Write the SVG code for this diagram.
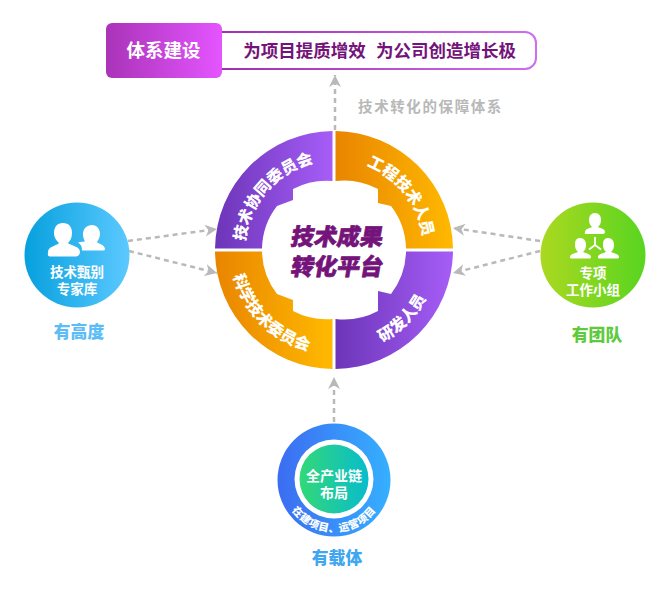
<svg xmlns="http://www.w3.org/2000/svg" width="668" height="590" viewBox="0 0 668 590">
<style>
text{font-family:"Noto Sans CJK SC","Noto Sans",sans-serif;font-weight:700;text-anchor:middle}
.w{fill:#fff}
.ring{font-size:15.800px;font-weight:900;fill:#fff}
.core{font-size:23px;font-weight:900;fill:#74137a;stroke:#74137a;stroke-width:.7}
.c{stroke:#b9b9b9;stroke-width:2.500;stroke-dasharray:5 4;fill:none;marker-end:url(#arr)}
</style>
<defs>
<marker id="arr" markerUnits="userSpaceOnUse" markerWidth="14" markerHeight="14" refX="12" refY="6.500" orient="auto"><path d="M0,0.500L12,6.500L0,12.500L3.500,6.500Z" fill="#b9b9b9"/></marker>
<linearGradient id="gHead" x1="0" x2="1" y1="0" y2="0"><stop offset="0" stop-color="#aa33b8"/><stop offset="1" stop-color="#e455ff"/></linearGradient>
<linearGradient id="gLine" x1="0" x2="1" y1="0" y2="0"><stop offset="0" stop-color="#9a2aa8"/><stop offset="1" stop-color="#cf6cf0"/></linearGradient>
<linearGradient id="gP" x1="0" x2="1" y1="0" y2="0"><stop offset="0" stop-color="#6c35b8"/><stop offset="1" stop-color="#a65df7"/></linearGradient>
<linearGradient id="gO" x1="0" x2="1" y1="0" y2="0"><stop offset="0" stop-color="#e98500"/><stop offset="1" stop-color="#ffb900"/></linearGradient>
<linearGradient id="gL" x1="0" x2="1" y1="0" y2="0"><stop offset="0" stop-color="#06a0de"/><stop offset="1" stop-color="#5cc9ff"/></linearGradient>
<linearGradient id="gR" x1="0" x2="1" y1="0" y2="0"><stop offset="0" stop-color="#acd820"/><stop offset="1" stop-color="#58d520"/></linearGradient>
<linearGradient id="gB" x1="0" x2="1" y1="0" y2="0"><stop offset="0" stop-color="#3c6cf2"/><stop offset="1" stop-color="#35b0ff"/></linearGradient>
<linearGradient id="gI" x1="0" x2="1" y1="0" y2="0"><stop offset="0" stop-color="#33d877"/><stop offset="1" stop-color="#08bccc"/></linearGradient>
<path id="aTL" d="M245,256A90,90 0 0 1 328,161"/>
<path id="aTR" d="M343,160A90,90 0 0 1 423,261"/>
<path id="aBL" d="M230,250A104,104 0 0 0 334,354"/>
<path id="aBR" d="M334,354A104,104 0 0 0 438,250"/>
<path id="aBot" d="M282,480A52,52 0 0 0 386,480"/>
</defs>

<g id="connectors">
<path class="c" d="M335,130V75"/>
<path class="c" d="M334,422V377"/>
<path class="c" d="M128,241L217,229"/>
<path class="c" d="M129,251L217,273"/>
<path class="c" d="M540,241L453,228"/>
<path class="c" d="M540,251L453,273"/>
</g>

<g id="header">
<rect x="190" y="32" width="346" height="37" rx="11" fill="#fff" stroke="url(#gLine)" stroke-width="2"/>
<rect x="106" y="23" width="116" height="55" rx="6" fill="url(#gHead)"/>
<text class="w" x="163.500" y="57" style="font-size:18.500px">体系建设</text>
<text x="304.500" y="57" style="font-size:17.500px;fill:#74137a">为项目提质增效</text>
<text x="446" y="57" style="font-size:17.500px;fill:#74137a">为公司创造增长极</text>
</g>
<text id="guarantee" x="430.500" y="112" style="font-size:14.500px;letter-spacing:1.600px;fill:#b8b8b8">技术转化的保障体系</text>

<g id="ring-top-left">
<path fill="url(#gP)" d="M332.500,131A119,119 0 0 0 215,248.500H262A72,72 0 0 1 277,206L293,200V189A72,72 0 0 1 332.500,181Z"/>
<text class="ring"><textPath href="#aTL" startOffset="50%">技术协同委员会</textPath></text>
</g>
<g id="ring-top-right">
<path fill="url(#gO)" d="M335.500,131A119,119 0 0 1 453,248.500H406A72,72 0 0 0 391,206L378,203V189A72,72 0 0 0 335.500,181Z"/>
<text class="ring"><textPath href="#aTR" startOffset="50%">工程技术人员</textPath></text>
</g>
<g id="ring-bottom-left">
<path fill="url(#gO)" d="M332.500,369A119,119 0 0 1 215,251.500H262A72,72 0 0 0 277,294L293,300V311A72,72 0 0 0 332.500,319Z"/>
<text class="ring"><textPath href="#aBL" startOffset="50%">科学技术委员会</textPath></text>
</g>
<g id="ring-bottom-right">
<path fill="url(#gP)" d="M335.500,369A119,119 0 0 0 453,251.500H406A72,72 0 0 1 391,294L378,291V311A72,72 0 0 1 335.500,319Z"/>
<text class="ring"><textPath href="#aBR" startOffset="50%">研发人员</textPath></text>
</g>
<g id="core">
<text class="core" x="336" y="245" transform="skewX(-10)" style="transform-origin:336px 245px">技术成果</text>
<text class="core" x="336" y="275" transform="skewX(-10)" style="transform-origin:336px 275px">转化平台</text>
</g>

<g id="node-left">
<circle cx="77" cy="255" r="52.500" fill="url(#gL)"/>
<path class="w" d="M63,223c6,0 9,4 9,10c0,5 -2,8 -4,10c3,3 12,3 12,9c0,3 -2,4 -4,4.500h-26c-3,0 -2,-3 -2,-4.500c0,-6 9,-6 11,-9c-2,-2 -5,-5 -5,-10c0,-6 3,-10 9,-10Z" />
<path class="w" d="M92,225c5,0 8,4 8,9c0,4 -2,6 -3,8c2,2 8,3 8,7c0,1 -1,1.500 -2,1.500h-21c0,-4 -1,-6 -4,-8c3,-1 6,-1 7,-1c-1,-2 -2,-4 -2,-7c0,-6 4,-9.500 9,-9.500Z"/>
<text class="w" x="77" y="277" style="font-size:13.500px">技术甄别</text>
<text class="w" x="77" y="293.500" style="font-size:13.500px">专家库</text>
</g>
<text id="label-left" x="79" y="338" style="font-size:16.800px;font-weight:900;fill:#5cbdf6">有高度</text>

<g id="node-right">
<circle cx="593" cy="255" r="52.500" fill="url(#gR)"/>
<path class="w" d="M595,213c4,0 6,3 6,7c0,3 -1,5 -3,7c2,1 7,2 7,5c0,1 -1,2 -2,2h-17c-2,0 -1,-1 -1,-2c0,-3 5,-4 7,-5c-2,-2 -3,-4 -3,-7c0,-4 2,-7 6,-7Z"/>
<path class="w" d="M580,238c4,0 6,3 6,7c0,3 -1,5 -3,7c2,1 8,2 8,5c0,1 -1,1.500 -2,1.500h-18c-1,0 -1,-1 -1,-1.500c0,-3 6,-4 8,-5c-2,-2 -3,-4 -3,-7c0,-4 1,-7 5,-7Z"/>
<path class="w" d="M608,238c4,0 6,3 6,7c0,3 -1,5 -3,7c2,1 8,2 8,5c0,1 -1,1.500 -2,1.500h-18c-1,0 -1,-1 -1,-1.500c0,-3 6,-4 8,-5c-2,-2 -3,-4 -3,-7c0,-4 1,-7 5,-7Z"/>
<path d="M595,237V245M595,245L589,249.500M595,245L601,249.500" fill="none" stroke="#fff" stroke-width="1.800"/>
<text class="w" x="593" y="278" style="font-size:13.500px">专项</text>
<text class="w" x="593" y="294.500" style="font-size:13.500px">工作小组</text>
</g>
<text id="label-right" x="597" y="341" style="font-size:16.800px;font-weight:900;fill:#5dcb3d">有团队</text>

<g id="node-bottom">
<circle cx="334" cy="480" r="56.500" fill="url(#gB)"/>
<circle cx="334" cy="479" r="39.500" fill="#fff"/>
<circle cx="334" cy="479" r="34.500" fill="url(#gI)"/>
<text class="w" x="334" y="481" style="font-size:14px">全产业链</text>
<text class="w" x="334" y="497.500" style="font-size:14px">布局</text>
<text class="w" style="font-size:10.500px;font-weight:900;letter-spacing:.4px"><textPath href="#aBot" startOffset="50%">在建项目、运营项目</textPath></text>
</g>
<text id="label-bottom" x="337" y="564" style="font-size:16.800px;font-weight:900;fill:#3fa6f0">有载体</text>
</svg>
